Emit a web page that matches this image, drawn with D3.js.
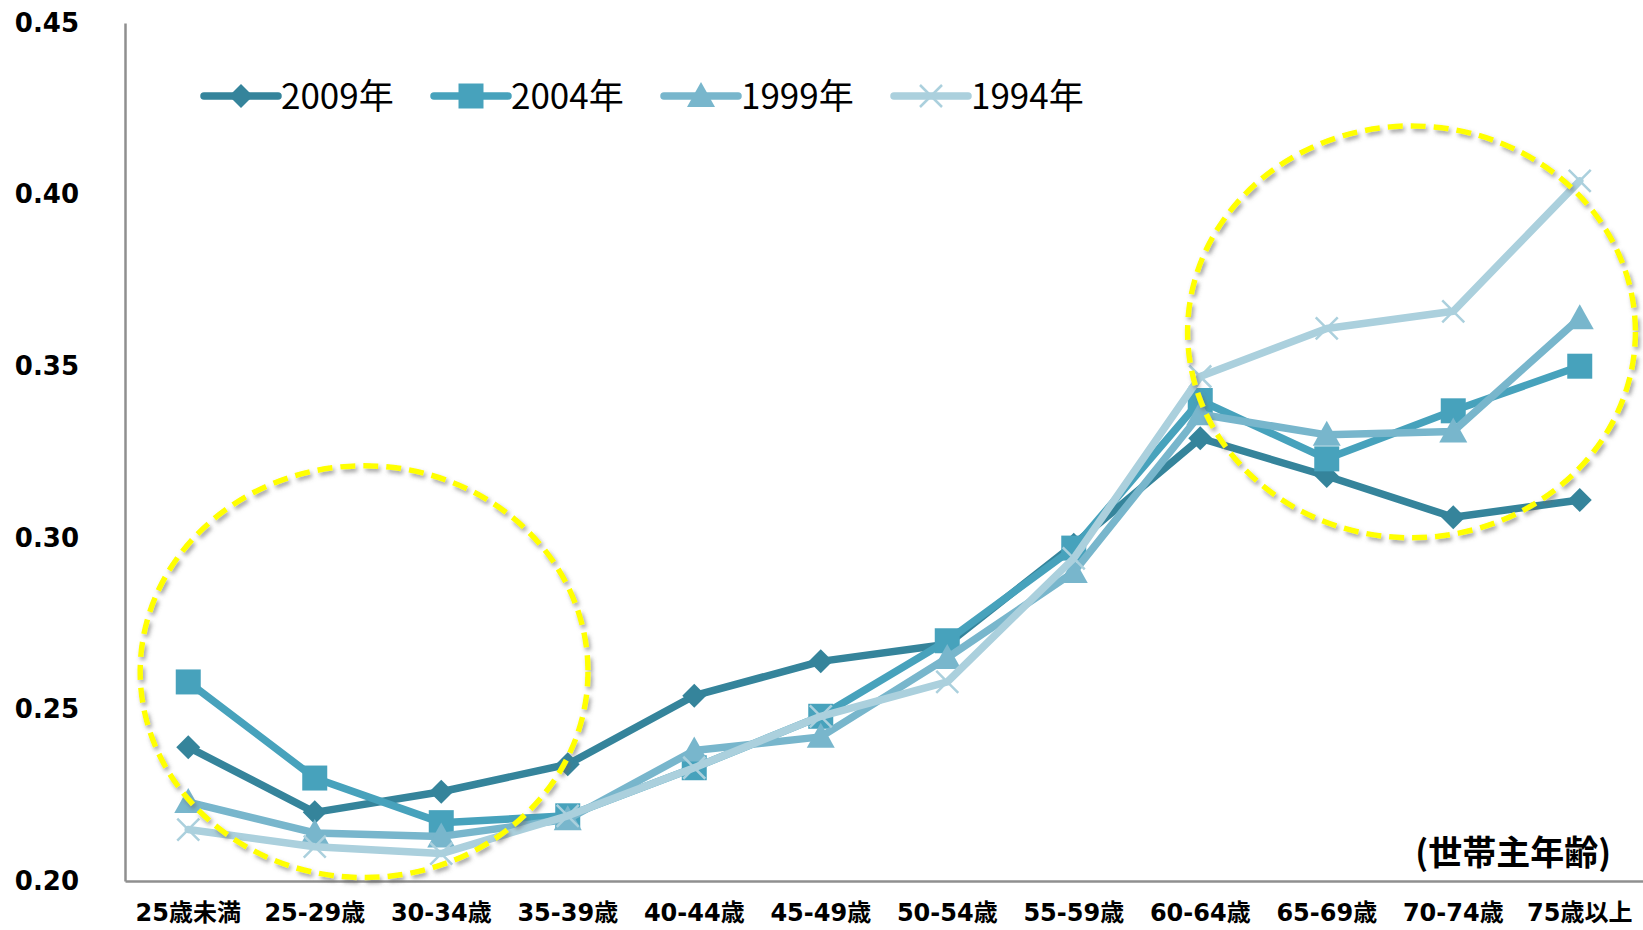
<!DOCTYPE html>
<html>
<head>
<meta charset="utf-8">
<script src="https://cdn.jsdelivr.net/npm/d3@7"></script>
<style>
body { margin:0; background:#fff; }
svg { display:block; }
</style>
</head>
<body>
<div id="chart"></div>
<script>
var categories = ["25歳未満","25-29歳","30-34歳","35-39歳","40-44歳","45-49歳","50-54歳","55-59歳","60-64歳","65-69歳","70-74歳","75歳以上"];
var seriesNames = ["2009年","2004年","1999年","1994年"];
var values2009 = [0.239,0.220,0.226,0.234,0.254,0.264,0.269,0.298,0.329,0.318,0.306,0.311];
var values2004 = [0.258,0.230,0.217,0.219,0.233,0.248,0.270,0.297,0.340,0.323,0.337,0.350];
var values1999 = [0.223,0.214,0.213,0.218,0.238,0.242,0.265,0.290,0.336,0.330,0.331,0.364];
var values1994 = [0.215,0.210,0.208,0.219,0.233,0.248,0.258,0.294,0.347,0.361,0.366,0.404];
var yTicks = [0.20,0.25,0.30,0.35,0.40,0.45];
var axisTitle = "(世帯主年齢)";
// highlight circles in category-index / value units
var highlightCenters = [[1.39,0.261],[9.67,0.360]];
var highlightRadius = [1.77,0.060];

var seriesValues = [values2009,values2004,values1999,values1994];
var seriesColors = ["#35849b","#47a2bc","#78b6cc","#abd0dd"];
var seriesMarkers = ["diamond","square","triangle","cross"];

var width = 1643, height = 930;
var marginLeft = 125, marginTop = 23, marginBottom = 49;

var svg = d3.select("#chart").append("svg")
    .attr("width",width).attr("height",height);

var defs = svg.append("defs");
var shadow = defs.append("filter").attr("id","glow")
    .attr("x","-10%").attr("y","-10%").attr("width","120%").attr("height","120%");
shadow.append("feDropShadow")
    .attr("dx",2).attr("dy",3).attr("stdDeviation",2.2)
    .attr("flood-color","#666").attr("flood-opacity",0.6);

var x = d3.scaleBand().domain(categories).range([marginLeft,width]);
var xc = function(c) { return x(c) + x.bandwidth()/2; };
var xi = d3.scaleLinear().domain([0,1]).range([xc(categories[0]),xc(categories[1])]);
var y = d3.scaleLinear().domain([0.20,0.45]).range([height-marginBottom,marginTop]);

// axes
var yAxis = svg.append("g")
    .attr("transform","translate("+marginLeft+",0)")
    .call(d3.axisLeft(y).tickValues(yTicks).tickFormat(d3.format(".2f")).tickSize(0).tickPadding(46));
yAxis.selectAll("text")
    .attr("font-family","'DejaVu Sans', Verdana, sans-serif")
    .attr("font-weight","bold")
    .attr("font-size","26px")
    .attr("fill","#000");

var xAxis = svg.append("g")
    .attr("transform","translate(0,"+(height-marginBottom)+")")
    .call(d3.axisBottom(x).tickSize(0).tickSizeOuter(0).tickPadding(23));
xAxis.selectAll("text")
    .attr("font-family","'DejaVu Sans', 'Noto Sans CJK JP', sans-serif")
    .attr("font-weight","bold")
    .attr("font-size","24px")
    .attr("fill","#000");

svg.selectAll(".domain")
    .attr("stroke","#8f8f8f")
    .attr("stroke-width",2.5);

svg.append("text")
    .attr("x",1611)
    .attr("y",y(0.20)-16)
    .attr("text-anchor","end")
    .attr("font-family","'Noto Sans CJK JP', sans-serif")
    .attr("font-weight","bold")
    .attr("font-size","34px")
    .text(axisTitle);

function markerPath(type) {
    if(type=="diamond") return "M0,-12L12,0L0,12L-12,0Z";
    if(type=="square") return "M-12.5,-12.5H12.5V12.5H-12.5Z";
    if(type=="triangle") return "M0,-14L14,11H-14Z";
    return "M-11,-11L11,11M-11,11L11,-11";
}

function drawMarker(g, type, color, cx, cy) {
    var p = g.append("path")
        .attr("d",markerPath(type))
        .attr("transform","translate("+cx+","+cy+")");
    if(type=="cross")
        p.attr("fill","none").attr("stroke",color).attr("stroke-width",2.5);
    else
        p.attr("fill",color);
}

var line = d3.line()
    .x(function(d,i) { return xc(categories[i]); })
    .y(function(d) { return y(d); });

for(var s=0; s<seriesValues.length; s++) {
    var g = svg.append("g");
    g.append("path")
        .datum(seriesValues[s])
        .attr("d",line)
        .attr("fill","none")
        .attr("stroke",seriesColors[s])
        .attr("stroke-width",7.5)
        .attr("stroke-linejoin","round")
        .attr("stroke-linecap","round");
    for(var i=0; i<seriesValues[s].length; i++)
        drawMarker(g, seriesMarkers[s], seriesColors[s], xc(categories[i]), y(seriesValues[s][i]));
}

// legend
var legend = svg.append("g");
for(var s=0; s<seriesNames.length; s++) {
    var lx = 204 + s*230, ly = 96;
    legend.append("line")
        .attr("x1",lx).attr("x2",lx+74)
        .attr("y1",ly).attr("y2",ly)
        .attr("stroke",seriesColors[s])
        .attr("stroke-width",7.5)
        .attr("stroke-linecap","round");
    drawMarker(legend, seriesMarkers[s], seriesColors[s], lx+37, ly);
    legend.append("text")
        .attr("x",lx+77)
        .attr("y",ly)
        .attr("dy","0.36em")
        .attr("font-family","'Noto Sans CJK JP', sans-serif")
        .attr("font-size","35px")
        .attr("fill","#000")
        .text(seriesNames[s]);
}

// yellow dashed highlight circles
for(var h=0; h<highlightCenters.length; h++) {
    var c = highlightCenters[h];
    svg.append("ellipse")
        .attr("cx",xi(c[0]))
        .attr("cy",y(c[1]))
        .attr("rx",xi(highlightRadius[0])-xi(0))
        .attr("ry",y(0.20)-y(0.20+highlightRadius[1]))
        .attr("fill","none")
        .attr("stroke","#ffff00")
        .attr("stroke-width",5.5)
        .attr("stroke-dasharray","15,8")
        .attr("filter","url(#glow)");
}
</script>
</body>
</html>
